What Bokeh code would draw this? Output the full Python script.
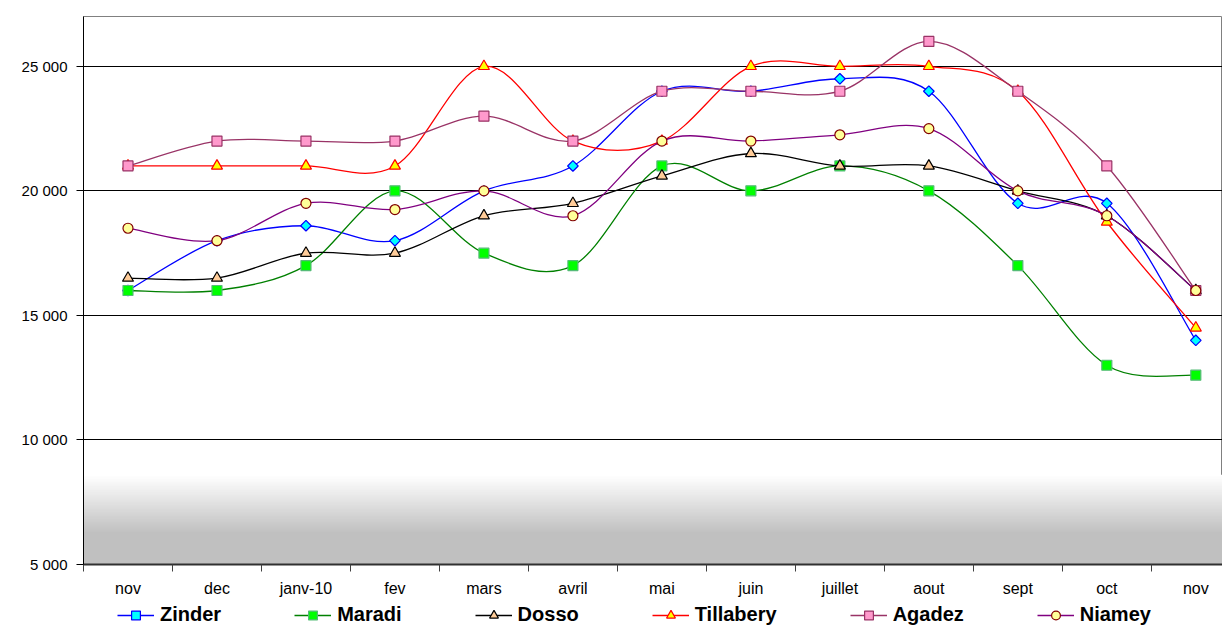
import math
import numpy as np
from bokeh.plotting import figure
from bokeh.layouts import column
from bokeh.models import (Range1d, FixedTicker, Legend, LegendItem, ColumnDataSource)
from bokeh.embed import file_html
from bokeh.resources import INLINE

months = ["nov", "dec", "janv-10", "fev", "mars", "avril", "mai", "juin",
          "juillet", "aout", "sept", "oct", "nov"]

zinder    = [16000, 18000, 18600, 18000, 20000, 21000, 24000, 24000, 24500, 24000, 19500, 19500, 14000]
maradi    = [16000, 16000, 17000, 20000, 17500, 17000, 21000, 20000, 21000, 20000, 17000, 13000, 12600]
dosso     = [16500, 16500, 17500, 17500, 19000, 19500, 20600, 21500, 21000, 21000, 20000, 19000, 16000]
tillabery = [21000, 21000, 21000, 21000, 25000, 22000, 22000, 25000, 25000, 25000, 24000, 18750, 14500]
agadez    = [21000, 22000, 22000, 22000, 23000, 22000, 24000, 24000, 24000, 26000, 24000, 21000, 16000]
niamey    = [18500, 18000, 19500, 19250, 20000, 19000, 22000, 22000, 22250, 22500, 20000, 19000, 16000]

series_names = ["Zinder", "Maradi", "Dosso", "Tillabery", "Agadez", "Niamey"]
series_values = [zinder, maradi, dosso, tillabery, agadez, niamey]

y_ticks = [5000, 10000, 15000, 20000, 25000]
y_tick_labels = ["5 000", "10 000", "15 000", "20 000", "25 000"]

# styles: line colour, marker, marker fill, marker edge, marker size, marker angle
styles = [
    ("#0000FF", "square", "#00FFFF", "#0000FF", 7.5, math.pi / 4),
    ("#008000", "square", "#00FF00", "#55BB77", 10, 0),
    ("#000000", "triangle", "#FFCC99", "#000000", 11, 0),
    ("#FF0000", "triangle", "#FFFF00", "#FF0000", 11, 0),
    ("#993366", "square", "#FF99CC", "#993366", 10, 0),
    ("#800080", "circle", "#FFFF99", "#800000", 10, 0),
]

p = figure(frame_width=1139, frame_height=548,
           output_backend="svg", toolbar_location=None,
           x_range=Range1d(-0.5, 12.3), y_range=Range1d(5000, 27000),
           min_border_left=83, min_border_right=0, min_border_top=16,
           min_border_bottom=0)
p.outline_line_color = "#808080"
p.outline_line_width = 1
p.background_fill_color = "white"
p.border_fill_color = "white"

# background gradient at the bottom of the plot area (nested quads, light to dark)
grad_solid_top = 6300
grad_white = 8600
n_bands = 40
band_tops = []
band_colors = []
for i in range(n_bands, -1, -1):
    t = i / n_bands
    band_tops.append(grad_solid_top + (grad_white - grad_solid_top) * t)
    g = int(round(192 + (255 - 192) * t))
    band_colors.append("#%02x%02x%02x" % (g, g, g))
p.quad(left=-1, right=14, bottom=5000, top=band_tops, fill_color=band_colors,
       line_color=None, level="underlay")

xs = list(range(len(months)))

def bezier_segments(x, y):
    n = len(x)
    d = dict(x0=[], y0=[], x1=[], y1=[], cx0=[], cy0=[], cx1=[], cy1=[])
    for i in range(n - 1):
        i0 = max(i - 1, 0)
        i3 = min(i + 2, n - 1)
        d["x0"].append(x[i]); d["y0"].append(y[i])
        d["x1"].append(x[i + 1]); d["y1"].append(y[i + 1])
        d["cx0"].append(x[i] + (x[i + 1] - x[i0]) / 6.0)
        d["cy0"].append(y[i] + (y[i + 1] - y[i0]) / 6.0)
        d["cx1"].append(x[i + 1] - (x[i3] - x[i]) / 6.0)
        d["cy1"].append(y[i + 1] - (y[i3] - y[i]) / 6.0)
    return d

for name, vals, (lc, mk, mf, me, ms, ang) in zip(series_names, series_values, styles):
    src = ColumnDataSource(bezier_segments(xs, vals))
    p.bezier(x0="x0", y0="y0", x1="x1", y1="y1", cx0="cx0", cy0="cy0",
             cx1="cx1", cy1="cy1", source=src, line_color=lc, line_width=1.3)
    p.scatter(xs, vals, marker=mk, size=ms, angle=ang, fill_color=mf,
              line_color=me, line_width=1.2)

# axes
p.xaxis.ticker = FixedTicker(ticks=xs, minor_ticks=[i - 0.5 for i in range(len(months) + 1)])
p.xaxis.major_label_overrides = {i: m for i, m in enumerate(months)}
p.xaxis.major_tick_out = 0
p.xaxis.major_tick_in = 0
p.xaxis.minor_tick_out = 7
p.xaxis.minor_tick_in = 0
p.xaxis.minor_tick_line_color = "#404040"
p.xaxis.axis_line_color = "#303030"
p.xaxis.axis_line_width = 2
p.xaxis.major_label_standoff = 8
p.xaxis.major_label_text_font = "Liberation Sans"
p.xaxis.major_label_text_font_size = "16px"
p.xaxis.major_label_text_color = "black"

p.yaxis.ticker = FixedTicker(ticks=y_ticks, minor_ticks=[])
p.yaxis.major_label_overrides = {v: l for v, l in zip(y_ticks, y_tick_labels)}
p.yaxis.major_tick_out = 7
p.yaxis.major_tick_in = 0
p.yaxis.major_tick_line_color = "black"
p.yaxis.axis_line_color = "black"
p.yaxis.major_label_standoff = 9
p.yaxis.major_label_text_font = "Liberation Sans"
p.yaxis.major_label_text_font_size = "15px"
p.yaxis.major_label_text_color = "black"

p.xgrid.grid_line_color = None
p.ygrid.ticker = FixedTicker(ticks=y_ticks)
p.ygrid.grid_line_color = "black"
p.ygrid.grid_line_width = 1.2

# legend strip: a small figure below holding legend-only proxy renderers
lg = figure(width=1222, height=30, output_backend="svg", toolbar_location=None,
            x_range=Range1d(0, 1), y_range=Range1d(0, 1),
            x_axis_location=None, y_axis_location=None,
            min_border_left=0, min_border_right=0, min_border_top=0,
            min_border_bottom=0)
lg.outline_line_color = None
lg.xgrid.grid_line_color = None
lg.ygrid.grid_line_color = None
lg.background_fill_color = "white"
lg.border_fill_color = "white"

nan = np.array([np.nan])
items = []
for name, (lc, mk, mf, me, ms, ang) in zip(series_names, styles):
    lr = lg.line(x=nan, y=nan, line_color=lc, line_width=1.3)
    sr = lg.scatter(x=nan, y=nan, marker=mk, size=ms, fill_color=mf,
                    line_color=me, line_width=1.2)
    items.append(LegendItem(label=name, renderers=[lr, sr]))

legend = Legend(items=items, orientation="horizontal", location=(34, 3),
                padding=0, margin=0, spacing=73, glyph_width=37, glyph_height=22,
                label_standoff=6, label_height=22,
                label_text_font="Liberation Sans", label_text_font_style="bold",
                label_text_font_size="20px", label_text_color="black",
                border_line_color=None, background_fill_alpha=0)
lg.add_layout(legend, "center")

layout = column(p, lg, spacing=0)
open("out.html", "w").write(file_html(layout, INLINE))
